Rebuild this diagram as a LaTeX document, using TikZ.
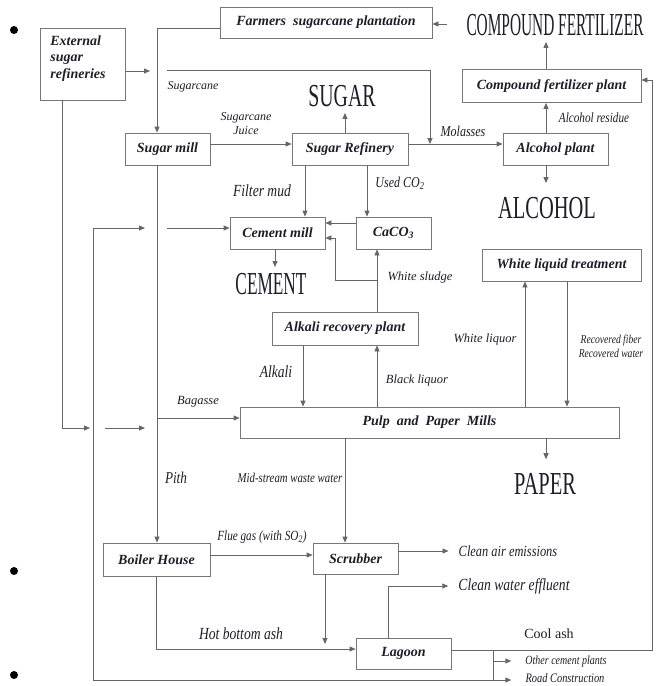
\documentclass[tikz,border=0pt]{standalone}
\usepackage{fontspec}
\setmainfont{Liberation Serif}
\newfontfamily\condserif[FakeStretch=0.8]{Liberation Serif}
\usetikzlibrary{arrows.meta,positioning,calc}
\usepackage{xcolor}
\definecolor{ink}{HTML}{1E1E2A}
\definecolor{wire}{HTML}{666666}
\definecolor{boxline}{HTML}{777777}
\newcommand{\narrow}[2]{\scalebox{#1}[1]{#2}}

\begin{document}
\begin{tikzpicture}[x=1pt,y=-1pt,
    box/.style={draw=boxline, line width=0.8pt, text=ink, minimum height=32pt,
                inner sep=2pt, font=\fontsize{14}{16.5}\selectfont\bfseries\itshape},
    lab/.style={text=ink, inner sep=2pt, align=center, font=\itshape\fontsize{#1}{#1}\selectfont},
    cnd/.style={text=ink, inner sep=2pt, align=center, font=\condserif\itshape\fontsize{#1}{#1}\selectfont},
    product/.style={text=ink, inner sep=6pt, font=\fontsize{32}{32}\selectfont},
    flow/.style={draw=wire, line width=0.8pt, -{Triangle[length=6pt,width=5pt]}},
    wireline/.style={draw=wire, line width=0.8pt}
  ]
  \fill[white] (0,0) rectangle (666,686);
  \useasboundingbox (0,0) rectangle (666,686);

  % list bullets of the page
  \foreach \y in {30,571,675}
    \fill[black] (14,\y) circle (4pt);

  % plants
  \node[box, minimum width=85pt, minimum height=72pt] (ext) at (82.5,64) {};
  \node[box, draw=none, anchor=north west, align=left, inner sep=0pt] (exttxt) at (50,35) {External\\sugar\\refineries};
  \node[box, minimum width=212pt, minimum height=31pt] (farm) at (326,22.5) {Farmers\ \ sugarcane plantation};
  \node[box, minimum width=85pt] (mill) at (167.5,149) {Sugar mill};
  \node[box, minimum width=116pt] (ref) at (350,149) {Sugar Refinery};
  \node[box, minimum width=105pt] (alc) at (555.5,149) {Alcohol plant};
  \node[box, minimum width=179pt, minimum height=33pt] (cfp) at (551.5,86) {Compound fertilizer plant};
  \node[box, minimum width=95pt] (cem) at (277.5,233) {Cement mill};
  \node[box, minimum width=75pt] (caco) at (393.5,233) {CaCO\textsubscript{3}};
  \node[box, minimum width=159pt] (wlt) at (561.5,265) {White liquid treatment};
  \node[box, minimum width=146pt, minimum height=33pt] (akr) at (345,328.5) {Alkali recovery plant};
  \node[box, minimum width=379pt, minimum height=31pt] (pulp) at (429.5,422.5) {Pulp\ \ and\ \ Paper\ \ Mills};
  \node[box, minimum width=107pt, minimum height=33pt] (boil) at (156.5,559.5) {Boiler House};
  \node[box, minimum width=85pt, minimum height=31pt] (scr) at (355.5,558.5) {Scrubber};
  \node[box, minimum width=95pt, minimum height=31pt] (lag) at (403.5,653.5) {Lagoon};

  % products
  \node[product] (cf) at (555,25) {\narrow{0.48}{COMPOUND FERTILIZER}};
  \node[product] (sugar) at (342,96) {\narrow{0.62}{SUGAR}};
  \node[product] (alcohol) at (547,208) {\narrow{0.64}{ALCOHOL}};
  \node[product] (cement) at (271,284) {\narrow{0.54}{CEMENT}};
  \node[product] (paper) at (545,484) {\narrow{0.64}{PAPER}};

  % stream labels
  \node[lab=12] (lcane) at (193,87) {Sugarcane};
  \node[lab=12] (ljuice) at (246,124) {Sugarcane\\[2pt]Juice};
  \node[cnd=17] (lmud) at (262,191) {Filter mud};
  \node[cnd=15] (lco2) at (400,183) {Used CO\textsubscript{2}};
  \node[cnd=15] (lmol) at (463,131) {Molasses};
  \node[cnd=14] (lres) at (594,118) {Alcohol residue};
  \node[lab=12.5] (lsludge) at (420,277) {White sludge};
  \node[cnd=17] (lalk) at (276,372) {Alkali};
  \node[lab=12.5] (lblack) at (417,380) {Black liquor};
  \node[lab=12.5] (lwhite) at (485,339) {White liquor};
  \node[cnd=12] (lrec) at (611,346) {Recovered fiber\\[2pt]Recovered water};
  \node[lab=12.5] (lbag) at (198,402) {Bagasse};
  \node[cnd=16.5] (lpith) at (176,478) {Pith};
  \node[cnd=13.5] (lmid) at (290,478) {Mid-stream waste water};
  \node[cnd=14] (lflue) at (262,537) {Flue gas (with SO\textsubscript{2})};
  \node[cnd=15.5] (air) at (508,551) {Clean air emissions};
  \node[cnd=17] (water) at (514,586) {Clean water effluent};
  \node[cnd=17] (lhot) at (241,634) {Hot bottom ash};
  \node[text=ink, font=\fontsize{14}{14}\selectfont] (lcool) at (549,634) {Cool ash};
  \node[cnd=12.5] (other) at (566,661) {Other cement plants};
  \node[cnd=13] (road) at (565,678) {Road Construction};

  % loose ends
  \coordinate (extout) at (150,71);
  \coordinate (moltop) at (167,70);
  \coordinate (molin) at (430,144);
  \coordinate (cfout) at (447,24);
  \coordinate (sludgetap) at (377,280);
  \coordinate (bagtap) at (157,418);
  \coordinate (extlow) at (90,428);
  \coordinate (feedlow) at (105,428);
  \coordinate (rimcorner) at (93,680);
  \coordinate (cemtip) at (145,228);
  \coordinate (cemfeed) at (167,228);
  \coordinate (scrash) at (325,644);
  \coordinate (rimright) at (652,80);
  \coordinate (ashsplit) at (493,650);

  % sugar side
  \draw[flow] (ext.east |- extout) -- (extout);
  \draw[flow] (moltop) -| (molin);
  \draw[flow] (farm.west |- 0,28) -| (mill.north -| 157,0);
  \draw[flow] (cfout) -- (cfout -| farm.east);
  \draw[flow] (mill.east |- 0,144) -- (ref.west |- 0,144);
  \draw[flow] (ref.north -| 345,0) -- (sugar.south -| 345,0);
  \draw[flow] (ref.east |- 0,144) -- (alc.west |- 0,144);
  \draw[flow] (alc.north -| 546,0) -- (cfp.south -| 546,0);
  \draw[flow] (cfp.north -| 546,0) -- (cf.south -| 546,0);
  \draw[flow, shorten >=8pt] (alc.south -| 546,0) -- (alcohol.north -| 546,0);

  % cement
  \draw[flow] (ref.south -| 305,0) -- (cem.north -| 305,0);
  \draw[flow] (ref.south -| 367,0) -- (caco.north -| 367,0);
  \draw[flow] (caco.west |- 0,223) -- (cem.east |- 0,223);
  \draw[flow] (akr.north -| 377,0) -- (caco.south -| 377,0);
  \draw[flow] (sludgetap) -- ++(-42,0) |- (cem.east |- 0,238);
  \draw[flow] (cem.south -| 275,0) -- (cement.north -| 275,0);

  % pulp and paper
  \draw[flow] (akr.south -| 303,0) -- (pulp.north -| 303,0);
  \draw[flow] (pulp.north -| 377,0) -- (akr.south -| 377,0);
  \draw[flow] (pulp.north -| 525,0) -- (wlt.south -| 525,0);
  \draw[flow] (wlt.south -| 567,0) -- (pulp.north -| 567,0);
  \draw[flow, shorten >=8pt] (pulp.south -| 546,0) -- (paper.north -| 546,0);
  \draw[flow] (pulp.south -| 345,0) -- (scr.north -| 345,0);
  \draw[flow] (mill.south -| 157,0) -- (boil.north -| 157,0);
  \draw[flow] (bagtap) -- (pulp.west |- bagtap);
  \draw[flow] (ext.south -| 62,0) |- (extlow);
  \draw[flow] (feedlow) -- ++(40,0);
  \draw[flow] (rimcorner) |- (cemtip);
  \draw[flow] (cemfeed) -- (cem.west |- cemfeed);

  % boiler, scrubber, lagoon
  \draw[flow] (boil.east |- 0,555) -- (scr.west |- 0,555);
  \draw[flow, shorten >=8pt] (scr.east |- air) -- (air.west);
  \draw[flow, shorten >=8pt] (lag.north -| 388,0) |- (water.west);
  \draw[flow] (scr.south -| 325,0) -- (scrash);
  \draw[flow] (boil.south) |- (lag.west |- 0,649);
  \draw[flow] (lag.east |- 0,650) -| (rimright) -- (cfp.east |- rimright);
  \draw[wireline] (ashsplit) -- (ashsplit |- rimcorner);
  \draw[flow, shorten >=12pt] (ashsplit |- other) -- (other.west);
  \draw[flow, shorten >=12pt] (rimcorner) -- (road.west |- rimcorner);
\end{tikzpicture}
\end{document}
